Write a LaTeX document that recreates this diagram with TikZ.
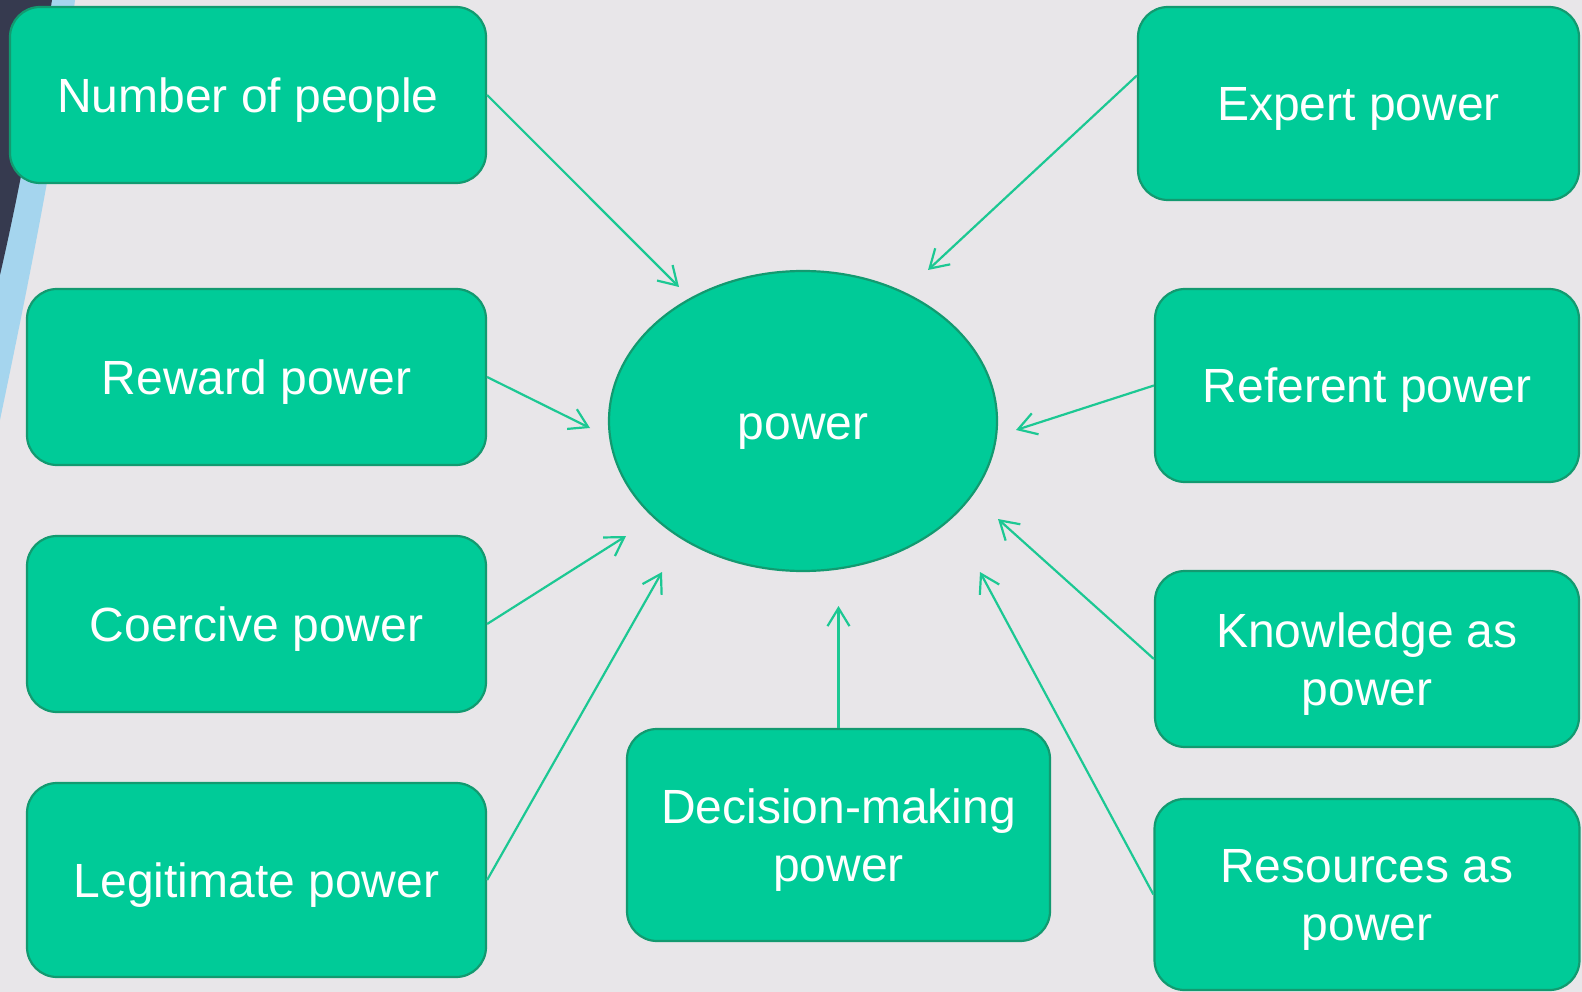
\documentclass[tikz,border=0pt]{standalone}
\usepackage{fontspec}
\setmainfont{Liberation Sans}
\usetikzlibrary{shapes.geometric}
\usetikzlibrary{arrows.meta}

\definecolor{slidebg}{HTML}{E8E6E9}
\definecolor{boxfill}{HTML}{00CB98}
\definecolor{boxline}{HTML}{129A70}
\definecolor{arrowcol}{HTML}{1CC893}
\definecolor{darkslate}{HTML}{363A4F}
\definecolor{skyband}{HTML}{A5D5EE}

\tikzset{
  factor/.style={rectangle,
          draw=boxline,
          line width=2.2pt,
          rounded corners=30pt,
          fill=boxfill,
          text=white,
          align=center,
          inner sep=0pt,
          text depth=0pt,
          font=\fontsize{48}{58}\selectfont},
  hub/.style={ellipse,
          draw=boxline,
          line width=2.2pt,
          fill=boxfill,
          text=white,
          inner sep=0pt,
          text height=37pt,
          text depth=0pt,
          minimum width=388pt,
          minimum height=300pt,
          font=\fontsize{48}{58}\selectfont},
  feed/.style={draw=arrowcol, line width=2.2pt, -{Straight Barb[length=18pt,width=22pt]}}
}

\begin{document}
\begin{tikzpicture}[x=1pt,y=-1pt]
   \fill[slidebg] (0,0) rectangle (1582,992);
   \useasboundingbox (0,0) rectangle (1582,992);
   \fill[skyband] (0,0) -- (75,0) .. controls (60,130) and (25,300) .. (0,420) -- cycle;
   \fill[darkslate] (0,0) -- (52,0) .. controls (35,110) and (15,210) .. (0,275) -- cycle;

   \node[factor, minimum width=476pt, minimum height=176pt] (people) at (248,95) {Number of people};
   \node[factor, minimum width=459pt, minimum height=176pt] (reward) at (256.5,377) {Reward power};
   \node[factor, minimum width=459pt, minimum height=176pt] (coercive) at (256.5,624) {Coercive power};
   \node[factor, minimum width=459pt, minimum height=194pt] (legit) at (256.5,880) {Legitimate power};
   \node[factor, minimum width=423pt, minimum height=212pt] (decision) at (838.5,835) {Decision-making\\power};
   \node[factor, minimum width=441pt, minimum height=193pt] (expert) at (1358.5,103.5) {Expert power};
   \node[factor, minimum width=424pt, minimum height=193pt] (referent) at (1367,385.5) {Referent power};
   \node[factor, minimum width=424pt, minimum height=176pt] (knowledge) at (1367,659) {Knowledge as\\power};
   \node[factor, minimum width=425pt, minimum height=191pt] (resources) at (1367,894.5) {Resources as\\power};

   \node[hub] (power) at (803,421) {power};

   \coordinate (people-tip) at (679,287);
   \coordinate (reward-tip) at (590,428);
   \coordinate (coercive-tip) at (626,536);
   \coordinate (legit-tip) at (662,572);
   \coordinate (decision-tip) at (838.5,606);
   \coordinate (expert-tip) at (928,270);
   \coordinate (referent-tip) at (1016,430);
   \coordinate (knowledge-tip) at (998,519);
   \coordinate (resources-tip) at (980,572);

   \draw[feed] (people.east) -- (people-tip);
   \draw[feed] (reward.east) -- (reward-tip);
   \draw[feed] (coercive.east) -- (coercive-tip);
   \draw[feed] (legit.east) -- (legit-tip);
   \draw[feed] (decision.north) -- (decision-tip);
   \draw[feed] ([yshift=28pt]expert.west) -- (expert-tip);
   \draw[feed] (referent.west) -- (referent-tip);
   \draw[feed] (knowledge.west) -- (knowledge-tip);
   \draw[feed] (resources.west) -- (resources-tip);
\end{tikzpicture}
\end{document}
